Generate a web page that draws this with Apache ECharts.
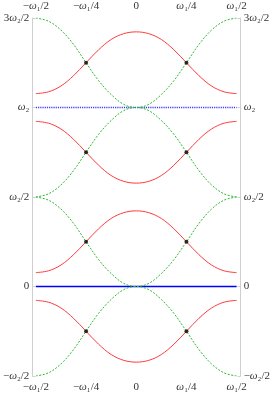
<!DOCTYPE html>
<html>
<head>
<meta charset="utf-8">
<script src="https://cdn.jsdelivr.net/npm/echarts@6/dist/echarts.min.js"></script>
<style>html,body{margin:0;padding:0;background:#fff}#c{width:273px;height:395px}</style>
</head>
<body>
<div id="c"></div>
<script>
// x in units of ω1, y in units of ω2/2
var xs = [-0.5, -0.4375, -0.375, -0.3125, -0.25, -0.1875, -0.125, -0.0625, 0, 0.0625, 0.125, 0.1875, 0.25, 0.3125, 0.375, 0.4375, 0.5];

var greenBandM1 = [-1.0, -0.965, -0.865, -0.705, -0.5, -0.30, -0.145, -0.035, 0, -0.035, -0.145, -0.30, -0.5, -0.705, -0.865, -0.965, -1.0];
var redBandM1   = [-0.155, -0.175, -0.24, -0.355, -0.5, -0.645, -0.76, -0.825, -0.845, -0.825, -0.76, -0.645, -0.5, -0.355, -0.24, -0.175, -0.155];
var greenBand0  = [1.0, 0.965, 0.865, 0.705, 0.5, 0.30, 0.145, 0.035, 0, 0.035, 0.145, 0.30, 0.5, 0.705, 0.865, 0.965, 1.0];
var redBand0    = [0.155, 0.175, 0.24, 0.355, 0.5, 0.645, 0.76, 0.825, 0.845, 0.825, 0.76, 0.645, 0.5, 0.355, 0.24, 0.175, 0.155];
var greenBand1  = [1.0, 1.035, 1.135, 1.295, 1.5, 1.70, 1.855, 1.965, 2.0, 1.965, 1.855, 1.70, 1.5, 1.295, 1.135, 1.035, 1.0];
var redBand1    = [1.845, 1.825, 1.76, 1.645, 1.5, 1.355, 1.24, 1.175, 1.155, 1.175, 1.24, 1.355, 1.5, 1.645, 1.76, 1.825, 1.845];
var greenBand2  = [3.0, 2.965, 2.865, 2.705, 2.5, 2.30, 2.145, 2.035, 2.0, 2.035, 2.145, 2.30, 2.5, 2.705, 2.865, 2.965, 3.0];
var redBand2    = [2.155, 2.175, 2.24, 2.355, 2.5, 2.645, 2.76, 2.825, 2.845, 2.825, 2.76, 2.645, 2.5, 2.355, 2.24, 2.175, 2.155];

var dotX = [-0.25, 0.25, -0.25, 0.25, -0.25, 0.25, -0.25, 0.25];
var dotY = [-0.5, -0.5, 0.5, 0.5, 1.5, 1.5, 2.5, 2.5];

var solidLineY = 0;   // blue solid at 0
var dottedLineY = 2;  // blue dotted at ω2

var xTickLabels = {'-2': '−{w|ω}₁/2', '-1': '−{w|ω}₁/4', '0': '0', '1': '{w|ω}₁/4', '2': '{w|ω}₁/2'};
var yTickLabels = {'-1': '−{w|ω}₂/2', '0': '0', '1': '{w|ω}₂/2', '2': '{w|ω}₂', '3': '3{w|ω}₂/2'};

function pts(ys) { return xs.map(function (x, i) { return [x, ys[i]]; }); }

var FONT = '"Liberation Serif", "DejaVu Serif", serif';
var labelBase = {
  color: '#333', fontFamily: FONT, fontSize: 11,
  rich: { w: { fontStyle: 'italic', fontFamily: FONT, fontSize: 11, color: '#333' } }
};
function xLabel(margin) {
  return Object.assign({}, labelBase, {
    margin: margin, showMinLabel: true, showMaxLabel: true,
    formatter: function (v) { return xTickLabels[String(Math.round(v * 4))] || ''; }
  });
}
function yLabel(margin) {
  return Object.assign({}, labelBase, {
    margin: margin,
    formatter: function (v) { return yTickLabels[String(Math.round(v))] || ''; }
  });
}

var RED = '#ff3a3a', GREEN = '#2fb82f';
function redS(ys) {
  return { type: 'line', data: pts(ys), smooth: 0.35, symbol: 'none', z: 3,
    lineStyle: { color: RED, width: 1 } };
}
function greenS(ys) {
  return { type: 'line', data: pts(ys), smooth: 0.35, symbol: 'none', z: 4,
    lineStyle: { color: GREEN, width: 1, type: [2, 1.5] } };
}

var chart = echarts.init(document.getElementById('c'), null, { renderer: 'canvas' });
chart.setOption({
  animation: false,
  grid: { left: 33, right: 33, top: 18, bottom: 19, containLabel: false },
  xAxis: [
    { type: 'value', min: -0.5, max: 0.5, interval: 0.25, position: 'bottom',
      axisLine: { show: false, onZero: false }, axisTick: { show: false }, splitLine: { show: false },
      axisLabel: xLabel(6) },
    { type: 'value', min: -0.5, max: 0.5, interval: 0.25, position: 'top',
      axisLine: { show: false, onZero: false }, axisTick: { show: false }, splitLine: { show: false },
      axisLabel: xLabel(6) }
  ],
  yAxis: [
    { type: 'value', min: -1, max: 3, interval: 1, position: 'left', offset: 3.5,
      axisLine: { show: true, onZero: false, lineStyle: { color: '#cfcfcf', width: 1 } },
      axisTick: { show: true, inside: true, length: 3, lineStyle: { color: '#cfcfcf' } },
      splitLine: { show: false }, axisLabel: yLabel(3) },
    { type: 'value', min: -1, max: 3, interval: 1, position: 'right', offset: 4,
      axisLine: { show: true, onZero: false, lineStyle: { color: '#cfcfcf', width: 1 } },
      axisTick: { show: true, inside: true, length: 3, lineStyle: { color: '#cfcfcf' } },
      splitLine: { show: false }, axisLabel: yLabel(3) }
  ],
  series: [
    redS(redBandM1), redS(redBand0), redS(redBand1), redS(redBand2),
    greenS(greenBandM1), greenS(greenBand0), greenS(greenBand1), greenS(greenBand2),
    { type: 'line', data: [[-0.5, solidLineY], [0.5, solidLineY]], symbol: 'none', z: 2,
      lineStyle: { color: '#0000ff', width: 1.3 } },
    { type: 'line', data: [[-0.5, dottedLineY], [0.5, dottedLineY]], symbol: 'none', z: 2,
      lineStyle: { color: '#3a3aff', width: 1.3, type: [1.2, 1] } },
    { type: 'scatter', data: dotX.map(function (x, i) { return [x, dotY[i]]; }),
      symbol: 'circle', symbolSize: 4, z: 6, itemStyle: { color: '#000' } }
  ]
});
</script>
</body>
</html>
